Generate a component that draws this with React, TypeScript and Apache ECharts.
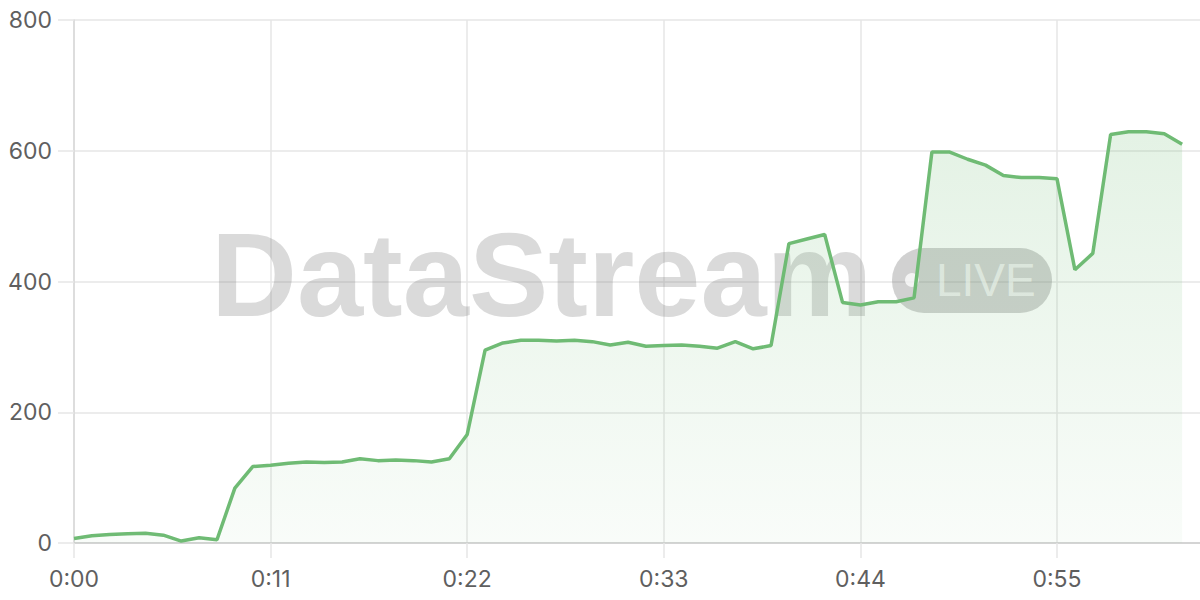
import React, { useEffect, useRef } from "react";
import * as echarts from "echarts";

// 64 time slots (seconds), last one has no data
const timeLabels: string[] = Array.from({ length: 64 }, (_, i) => {
  const m = Math.floor(i / 60);
  const s = i % 60;
  return `${m}:${s < 10 ? "0" + s : s}`;
});

const values: number[] = [
  7, 11, 13, 14, 15, 12, 3, 8, 5, 84,
  117, 119, 122, 124, 123, 124, 129, 126, 127, 126,
  124, 129, 166, 295, 306, 310, 310, 309, 310, 308,
  303, 307, 301, 302, 303, 301, 298, 308, 297, 302,
  458, 465, 472, 368, 364, 369, 369, 375, 598, 598,
  587, 578, 562, 559, 559, 557, 418, 443, 625, 629,
  629, 626, 610,
];

const yTicks = { min: 0, max: 800, interval: 200 };

const LINE_COLOR = "#6fbb74";

export default function App() {
  const ref = useRef<HTMLDivElement>(null);

  useEffect(() => {
    if (!ref.current) return;
    const chart = echarts.init(ref.current, undefined, { renderer: "svg" });
    const labelFont = { fontFamily: "Inter", fontSize: 23, color: "#5f5f5f" };
    chart.setOption({
      animation: false,
      grid: { left: 74, right: 0, top: 20, bottom: 57, containLabel: false },
      graphic: [
        {
          type: "text",
          z: 1,
          style: {
            x: 211,
            y: 274,
            text: "DataStream",
            fontFamily: "Liberation Sans",
            fontWeight: "bold",
            fontSize: 119,
            fill: "rgba(120,120,120,0.27)",
            align: "left",
            verticalAlign: "middle",
          },
        },
        {
          type: "rect",
          z: 1,
          shape: { x: 892, y: 248, width: 160, height: 65, r: 32 },
          style: { fill: "rgba(120,120,120,0.34)" },
        },
        {
          type: "circle",
          z: 1,
          shape: { cx: 912, cy: 280, r: 7 },
          style: { fill: "rgba(255,255,255,0.75)" },
        },
        {
          type: "text",
          z: 1,
          style: {
            x: 936,
            y: 280,
            text: "LIVE",
            fontFamily: "Liberation Sans",
            fontSize: 46,
            fill: "rgba(255,255,255,0.65)",
            align: "left",
            verticalAlign: "middle",
          },
        },
      ],
      xAxis: {
        type: "category",
        data: timeLabels,
        boundaryGap: false,
        axisLine: { show: true, lineStyle: { color: "#cccccc", width: 1.5 } },
        axisTick: {
          show: true,
          interval: 10,
          length: 15,
          lineStyle: { color: "#e6e6e6", width: 1.5 },
        },
        axisLabel: { ...labelFont, interval: 10, margin: 24 },
        splitLine: {
          show: true,
          interval: 10,
          lineStyle: { color: "#e6e6e6", width: 1.5 },
        },
      },
      yAxis: {
        type: "value",
        min: yTicks.min,
        max: yTicks.max,
        interval: yTicks.interval,
        axisLine: { show: true, lineStyle: { color: "#d9d9d9", width: 1.5 } },
        axisTick: {
          show: true,
          length: 16,
          lineStyle: { color: "#e6e6e6", width: 1.5 },
        },
        axisLabel: { ...labelFont, margin: 22 },
        splitLine: { show: true, lineStyle: { color: "#e6e6e6", width: 1.5 } },
      },
      series: [
        {
          type: "line",
          data: values,
          z: 2,
          showSymbol: false,
          symbol: "none",
          lineStyle: { color: LINE_COLOR, width: 3.5 },
          itemStyle: { color: LINE_COLOR },
          areaStyle: {
            color: new echarts.graphic.LinearGradient(0, 0, 0, 1, [
              { offset: 0, color: "rgba(111,187,116,0.27)" },
              { offset: 1, color: "rgba(111,187,116,0.06)" },
            ]),
          },
        },
      ],
    });
    return () => chart.dispose();
  }, []);

  return (
    <div
      ref={ref}
      style={{ position: "fixed", left: 0, top: 0, width: 1200, height: 600, background: "#ffffff" }}
    />
  );
}
